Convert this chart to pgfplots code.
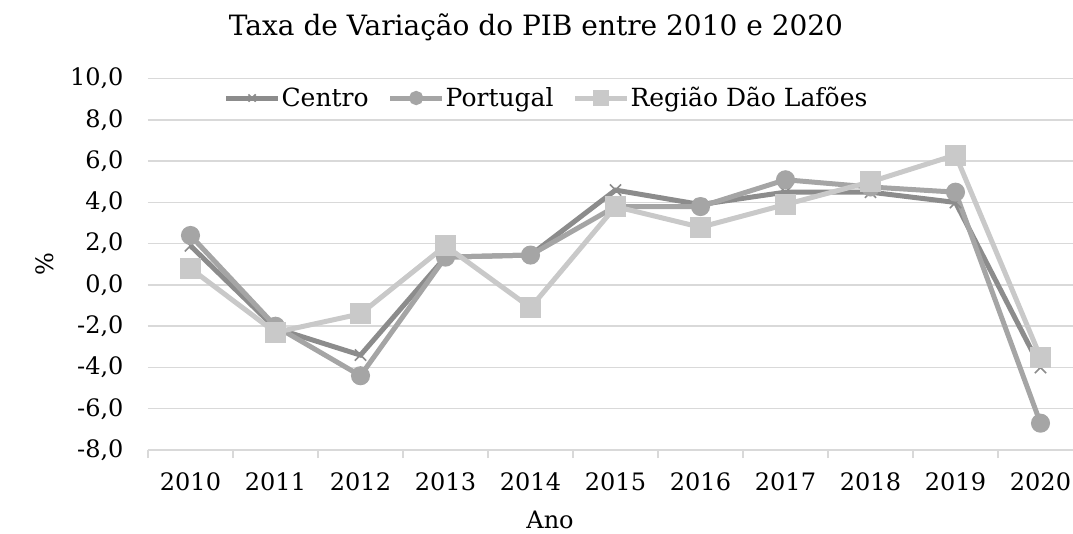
\documentclass[border=0pt]{standalone}
\usepackage{fontspec}
\setmainfont{DejaVu Serif}
\usepackage{pgfplots}
\pgfplotsset{compat=1.18}
\definecolor{cC}{HTML}{8C8C8C}
\definecolor{cP}{HTML}{A5A5A5}
\definecolor{cR}{HTML}{C9C9C9}
\definecolor{gridc}{HTML}{D9D9D9}
\begin{document}
\begin{tikzpicture}
\path[use as bounding box] (-148pt,-83pt) rectangle (925pt,450pt);
\begin{axis}[
  scale only axis, width=935pt, height=371.3pt,
  at={(0pt,0pt)}, anchor=south west,
  xmin=-0.5, xmax=10.5, ymin=-8, ymax=10,
  axis x line=bottom, axis y line=left,
  x axis line style={-, draw=gridc, line width=1.5pt},
  y axis line style={draw=none},
  ymajorgrids, grid style={gridc, line width=1.5pt},
  ytick={-8,-6,...,10},
  xtick={0,...,10},
  xticklabels={2010,2011,2012,2013,2014,2015,2016,2017,2018,2019,2020},
  minor xtick={-0.5,0.5,...,10.5},
  major tick length=0pt, minor tick length=8pt,
  tick align=outside,
  minor tick style={gridc, line width=1.5pt},
  /pgf/number format/assume math mode=true,
  yticklabel={\pgfmathprintnumber[fixed,fixed zerofill,precision=1,use comma]{\tick}},
  tick label style={font=\fontsize{24}{28}\selectfont, black},
  xticklabel style={yshift=-19pt},
  yticklabel style={xshift=-21pt},
  ylabel={\%},
  ylabel style={at={(axis description cs:-0.11,0.5)}, anchor=center, font=\fontsize{24}{28}\selectfont},
  xlabel={Ano},
  xlabel style={at={(axis description cs:0.43,-0.189)}, anchor=center, font=\fontsize{24}{28}\selectfont},
  title={Taxa de Variação do PIB entre 2010 e 2020},
  title style={at={(axis description cs:0.415,1.123)}, anchor=center, font=\fontsize{28}{32}\selectfont},
  legend columns=3,
  legend style={at={(axis description cs:0.4257,0.948)}, anchor=center, draw=none, fill=white,
    font=\fontsize{25}{29}\selectfont, inner sep=1pt, nodes={inner xsep=1pt},
    /tikz/every even column/.append style={column sep=18pt}},
  legend image code/.code={%
    \draw[mark repeat=2,mark phase=2, every mark/.append style={scale=0.65}] plot coordinates {(0pt,0pt) (26pt,0pt) (52pt,0pt)};},
  every axis plot/.append style={line width=5pt},
]
\addplot[cC, mark=x, mark size=8pt, mark options={line width=1.6pt, solid}] coordinates {
(0,1.9) (1,-2.1) (2,-3.4) (3,1.35) (4,1.45) (5,4.6) (6,3.9) (7,4.5) (8,4.5) (9,4.0) (10,-4.0)};
\addlegendentry{Centro}
\addplot[cP, mark=*, mark size=7pt, mark options={solid}] coordinates {
(0,2.4) (1,-2.0) (2,-4.4) (3,1.35) (4,1.45) (5,3.8) (6,3.8) (7,5.1) (8,4.75) (9,4.5) (10,-6.7)};
\addlegendentry{Portugal}
\addplot[cR, mark=square*, mark size=8pt, mark options={solid}] coordinates {
(0,0.8) (1,-2.3) (2,-1.4) (3,1.9) (4,-1.1) (5,3.8) (6,2.8) (7,3.9) (8,5.0) (9,6.3) (10,-3.5)};
\addlegendentry{Região Dão Lafões}
\end{axis}
\end{tikzpicture}
\end{document}
